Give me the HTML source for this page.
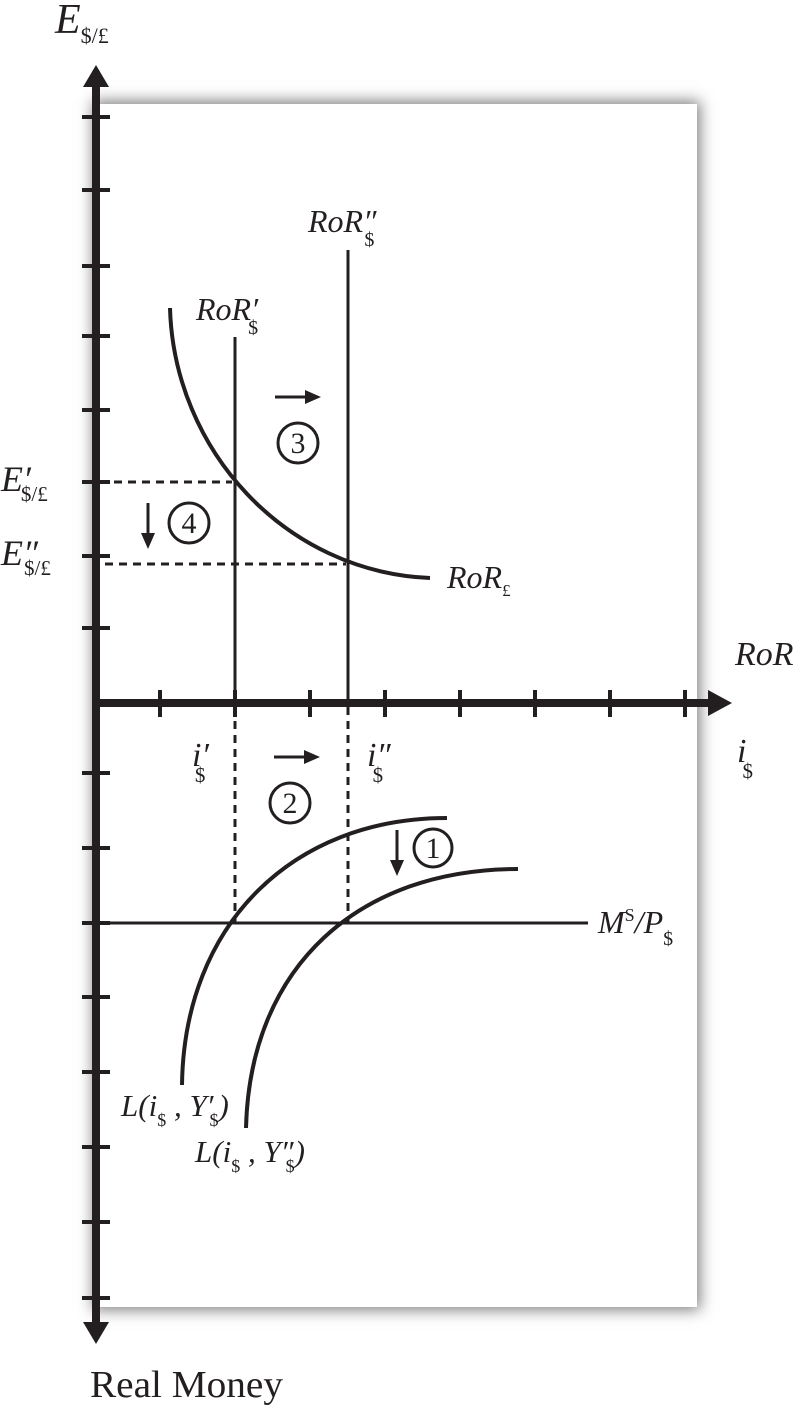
<!DOCTYPE html>
<html><head><meta charset="utf-8"><style>
html,body{margin:0;padding:0;background:#fff;}
.box{position:absolute;left:96px;top:104px;width:601px;height:1203px;background:#fff;box-shadow:0 0 14px 3px rgba(0,0,0,0.5);}
svg{position:absolute;left:0;top:0;}
text{font-family:"Liberation Serif",serif;fill:#231f20;}
.it{font-style:italic;}
.s{font-style:normal;}
</style></head><body>
<div class="box"></div>
<svg width="801" height="1409" viewBox="0 0 801 1409">
<g stroke="#231f20" fill="none">
 <line x1="96" y1="80" x2="96" y2="1330" stroke-width="8"/>
 <line x1="96" y1="703" x2="712" y2="703" stroke-width="8"/>
 <g stroke-width="4">
  <line x1="82" x2="110" y1="117" y2="117"/><line x1="82" x2="110" y1="190" y2="190"/>
  <line x1="82" x2="110" y1="266" y2="266"/><line x1="82" x2="110" y1="336" y2="336"/>
  <line x1="82" x2="110" y1="410" y2="410"/><line x1="82" x2="110" y1="482" y2="482"/>
  <line x1="82" x2="110" y1="556" y2="556"/><line x1="82" x2="110" y1="628" y2="628"/>
  <line x1="82" x2="110" y1="773" y2="773"/><line x1="82" x2="110" y1="848" y2="848"/>
  <line x1="82" x2="110" y1="923" y2="923"/><line x1="82" x2="110" y1="997" y2="997"/>
  <line x1="82" x2="110" y1="1072" y2="1072"/><line x1="82" x2="110" y1="1147" y2="1147"/>
  <line x1="82" x2="110" y1="1222" y2="1222"/><line x1="82" x2="110" y1="1298" y2="1298"/>
  <line y1="690" y2="717" x1="160" x2="160"/><line y1="690" y2="717" x1="235" x2="235"/>
  <line y1="690" y2="717" x1="310" x2="310"/><line y1="690" y2="717" x1="385" x2="385"/>
  <line y1="690" y2="717" x1="460" x2="460"/><line y1="690" y2="717" x1="535" x2="535"/>
  <line y1="690" y2="717" x1="610" x2="610"/><line y1="690" y2="717" x1="685" x2="685"/>
 </g>
 <line x1="235" y1="337" x2="235" y2="703" stroke-width="3"/>
 <line x1="348" y1="250" x2="348" y2="703" stroke-width="3"/>
 <line x1="235" y1="707" x2="235" y2="923" stroke-width="3" stroke-dasharray="8,6"/>
 <line x1="348" y1="707" x2="348" y2="923" stroke-width="3" stroke-dasharray="8,6"/>
 <line x1="100" y1="482" x2="232" y2="482" stroke-width="3" stroke-dasharray="8,6"/>
 <line x1="105" y1="564" x2="346" y2="564" stroke-width="3" stroke-dasharray="8,6"/>
 <path d="M170,308 C174,450 285,572 430,578" stroke-width="4"/>
 <line x1="100" y1="923" x2="588" y2="923" stroke-width="3"/>
 <path d="M182,1085 C184,925 292,818 447,818" stroke-width="4"/>
 <path d="M246,1128 C250,965 360,869 518,869" stroke-width="4"/>
 <g stroke-width="3">
  <circle cx="298" cy="443" r="20"/><circle cx="189" cy="523" r="20"/>
  <circle cx="290" cy="803" r="20"/><circle cx="433" cy="848" r="19"/>
 </g>
 <g stroke-width="3">
  <line x1="275" y1="397" x2="308" y2="397"/>
  <line x1="148" y1="503" x2="148" y2="535"/>
  <line x1="274" y1="757" x2="308" y2="757"/>
  <line x1="397" y1="830" x2="397" y2="863"/>
 </g>
</g>
<g fill="#231f20">
 <polygon points="96,65 83,87 109,87"/>
 <polygon points="96,1344 83,1322 109,1322"/>
 <polygon points="732,703 708,690 708,716"/>
 <polygon points="321,397 305,390 305,404"/>
 <polygon points="148,549 141,533 155,533"/>
 <polygon points="320,757 304,750 304,764"/>
 <polygon points="397,876 390,860 404,860"/>
</g>
<g font-size="30" text-anchor="middle">
 <text x="298" y="453">3</text><text x="189" y="533">4</text>
 <text x="290" y="813">2</text><text x="433" y="858">1</text>
</g>
<text class="it" x="55" y="33" font-size="42">E<tspan class="s" font-size="22" dy="10">$/£</tspan></text>
<text class="it" x="735" y="665" font-size="34">RoR</text>
<text class="it" x="737" y="762" font-size="34">i<tspan class="s" font-size="21" dy="16" dx="-4">$</tspan></text>
<text class="it" x="308" y="232" font-size="32">RoR″<tspan class="s" font-size="20" dy="14" dx="-12">$</tspan></text>
<text class="it" x="196" y="320" font-size="32">RoR′<tspan class="s" font-size="20" dy="14" dx="-10">$</tspan></text>
<text class="it" x="447" y="588" font-size="32">RoR<tspan class="s" font-size="17" dy="8">£</tspan></text>
<text class="it" x="1" y="491" font-size="36">E′<tspan class="s" font-size="21" dy="10" dx="-10">$/£</tspan></text>
<text class="it" x="1" y="565" font-size="36">E″<tspan class="s" font-size="21" dy="10" dx="-14">$/£</tspan></text>
<text class="it" x="192" y="766" font-size="34">i′<tspan class="s" font-size="21" dy="16" dx="-14">$</tspan></text>
<text class="it" x="367" y="766" font-size="34">i″<tspan class="s" font-size="21" dy="16" dx="-18">$</tspan></text>
<text class="it" x="598" y="933" font-size="32">M<tspan class="s" font-size="18" dy="-12">S</tspan><tspan dy="12">/P</tspan><tspan class="s" font-size="20" dy="12">$</tspan></text>
<text class="it" x="121" y="1116" font-size="31">L(i<tspan class="s" font-size="18" dy="10">$</tspan><tspan dy="-10"> , Y′</tspan><tspan class="s" font-size="18" dy="10" dx="-4">$</tspan><tspan dy="-10">)</tspan></text>
<text class="it" x="195" y="1162" font-size="31">L(i<tspan class="s" font-size="18" dy="10">$</tspan><tspan dy="-10"> , Y″</tspan><tspan class="s" font-size="18" dy="10" dx="-8">$</tspan><tspan dy="-10">)</tspan></text>
<text x="90" y="1397" font-size="38" textLength="193" lengthAdjust="spacingAndGlyphs">Real Money</text>
</svg>
</body></html>
